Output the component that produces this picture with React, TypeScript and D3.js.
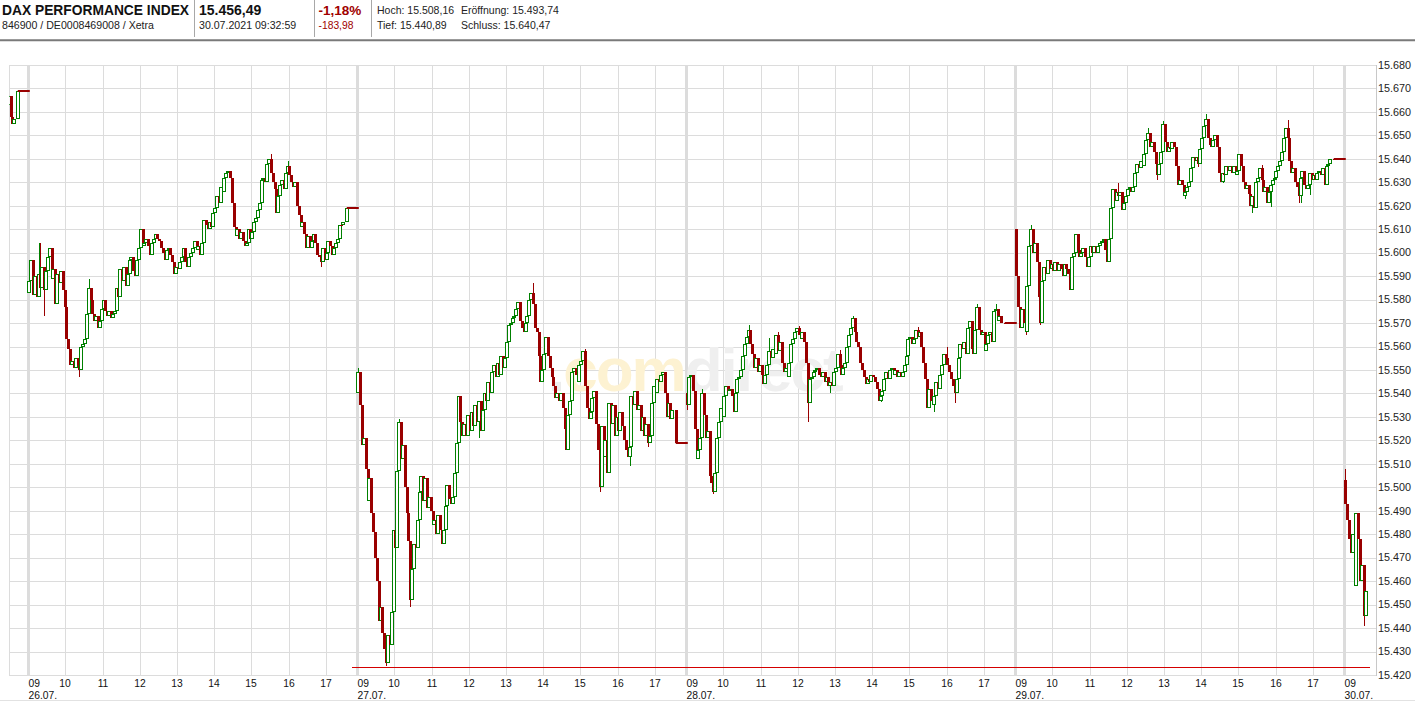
import React from 'react';
import * as d3 from 'd3';

// ---------- header texts ----------
const titleText = 'DAX PERFORMANCE INDEX';
const idText = '846900 / DE0008469008 / Xetra';
const lastPrice = '15.456,49';
const timeStamp = '30.07.2021 09:32:59';
const changePct = '-1,18%';
const changeAbs = '-183,98';
const statsLeft = ['Hoch: 15.508,16', 'Tief: 15.440,89'];
const statsRight = ['Eröffnung: 15.493,74', 'Schluss: 15.640,47'];

// ---------- axis labels ----------
const dayDates = ['26.07.', '27.07.', '28.07.', '29.07.', '30.07.'];
const firstHourLabel = '09';
const hourTicks = [10, 11, 12, 13, 14, 15, 16, 17];
const priceTicks = [15420, 15430, 15440, 15450, 15460, 15470, 15480, 15490, 15500, 15510, 15520, 15530, 15540,
  15550, 15560, 15570, 15580, 15590, 15600, 15610, 15620, 15630, 15640, 15650, 15660, 15670, 15680];
const supportLevel = 15423.3;

// ---------- 3-minute closes (09:00 ... 17:27), open of each candle = previous close ----------
const cl23 = [15667, 15658, 15655, 15657];
const cl26 = [
  15588, 15597, 15582, 15590, 15581, 15591, 15585, 15594, 15584, 15592, 15598, 15602, 15589, 15593, 15578, 15591, 15587, 15592, 15584, 15577,
  15563, 15559, 15552, 15554, 15551, 15555, 15552, 15550, 15560, 15561, 15563, 15574, 15585, 15580, 15574, 15571, 15573, 15568, 15571, 15576,
  15580, 15575, 15573, 15575, 15572, 15574, 15575, 15585, 15581, 15593, 15588, 15594, 15586, 15591, 15597, 15598, 15592, 15590, 15597, 15602,
  15610, 15603, 15604, 15606, 15603, 15599, 15604, 15606, 15608, 15606, 15605, 15602, 15600, 15597, 15601, 15602, 15599, 15596, 15591, 15594,
  15593, 15596, 15598, 15602, 15596, 15594, 15598, 15600, 15602, 15605, 15601, 15603, 15599, 15604, 15614, 15612, 15610, 15613, 15611, 15617,
  15619, 15624, 15621, 15628, 15626, 15632, 15634, 15635, 15632, 15621, 15611, 15607, 15610, 15606, 15609, 15605, 15603, 15604, 15610, 15606,
  15609, 15613, 15615, 15618, 15621, 15631, 15632, 15630, 15638, 15640, 15634, 15630, 15627, 15617, 15624, 15629, 15631, 15627, 15634, 15637,
  15633, 15630, 15628, 15630, 15620, 15616, 15611, 15613, 15608, 15602, 15607, 15602, 15605, 15608, 15604, 15599, 15598, 15596, 15602, 15597,
  15600, 15605, 15603, 15599, 15602, 15604, 15606, 15612, 15612, 15613,
];
const cl27 = [
  15549, 15535, 15518, 15521, 15508, 15494, 15504, 15489, 15481, 15470, 15460, 15443, 15449, 15438, 15431, 15425, 15437, 15433, 15447, 15482,
  15474, 15507, 15528, 15512, 15518, 15500, 15489, 15477, 15452, 15465, 15476, 15474, 15486, 15498, 15505, 15494, 15504, 15491, 15496, 15490,
  15484, 15486, 15480, 15488, 15482, 15476, 15482, 15492, 15501, 15495, 15493, 15496, 15506, 15519, 15539, 15528, 15522, 15527, 15522, 15531,
  15524, 15532, 15526, 15535, 15528, 15537, 15524, 15533, 15540, 15537, 15545, 15540, 15549, 15552, 15547, 15553, 15548, 15556, 15551, 15555,
  15562, 15569, 15570, 15572, 15573, 15576, 15579, 15571, 15568, 15566, 15570, 15573, 15580, 15583, 15578, 15568, 15566, 15556, 15545, 15550,
  15557, 15564, 15556, 15551, 15547, 15543, 15538, 15540, 15537, 15540, 15534, 15525, 15516, 15531, 15537, 15549, 15551, 15548, 15545, 15552,
  15554, 15558, 15543, 15534, 15529, 15532, 15538, 15541, 15527, 15516, 15500, 15526, 15513, 15520, 15506, 15536, 15527, 15535, 15522, 15530,
  15524, 15532, 15526, 15520, 15516, 15513, 15517, 15539, 15535, 15541, 15533, 15535, 15524, 15530, 15522, 15527, 15519, 15522, 15536, 15543,
  15540, 15546, 15545, 15548, 15549, 15540, 15530, 15536, 15529, 15533,
];
const cl28 = [
  15535, 15547, 15548, 15541, 15525, 15512, 15516, 15521, 15540, 15531, 15521, 15524, 15505, 15502, 15498, 15506, 15521, 15528, 15534, 15530,
  15539, 15543, 15541, 15542, 15539, 15532, 15540, 15546, 15547, 15550, 15556, 15561, 15564, 15567, 15561, 15557, 15551, 15555, 15549, 15552,
  15548, 15544, 15548, 15552, 15558, 15555, 15559, 15557, 15565, 15558, 15562, 15553, 15549, 15551, 15547, 15553, 15561, 15563, 15566, 15568,
  15565, 15563, 15566, 15562, 15553, 15536, 15546, 15547, 15549, 15550, 15551, 15548, 15547, 15549, 15545, 15547, 15543, 15545, 15543, 15549,
  15551, 15557, 15552, 15548, 15551, 15553, 15560, 15565, 15568, 15572, 15566, 15562, 15560, 15553, 15550, 15547, 15544, 15546, 15545, 15548,
  15547, 15545, 15542, 15537, 15539, 15541, 15546, 15549, 15546, 15550, 15551, 15548, 15550, 15547, 15549, 15547, 15549, 15552, 15556, 15563,
  15564, 15561, 15563, 15567, 15564, 15566, 15560, 15553, 15546, 15534, 15542, 15537, 15535, 15539, 15545, 15542, 15548, 15552, 15557, 15555,
  15552, 15549, 15546, 15543, 15540, 15546, 15555, 15561, 15559, 15562, 15557, 15568, 15571, 15559, 15557, 15567, 15577, 15567, 15565, 15566,
  15558, 15561, 15565, 15566, 15562, 15575, 15576, 15571, 15573, 15570,
];
const cl29 = [
  15590, 15577, 15568, 15576, 15570, 15566, 15586, 15603, 15610, 15600, 15604, 15596, 15581, 15570, 15588, 15594, 15591, 15597, 15593, 15595,
  15592, 15596, 15592, 15595, 15593, 15590, 15595, 15593, 15591, 15584, 15598, 15600, 15608, 15601, 15598, 15600, 15602, 15598, 15594, 15598,
  15603, 15600, 15603, 15600, 15603, 15604, 15605, 15606, 15601, 15596, 15606, 15619, 15627, 15622, 15626, 15624, 15626, 15618, 15621, 15624,
  15627, 15628, 15626, 15628, 15634, 15638, 15636, 15639, 15637, 15642, 15648, 15651, 15645, 15647, 15643, 15638, 15633, 15638, 15643, 15655,
  15647, 15643, 15645, 15644, 15647, 15645, 15637, 15629, 15631, 15629, 15624, 15626, 15628, 15630, 15636, 15641, 15639, 15641, 15638, 15644,
  15649, 15654, 15657, 15649, 15646, 15645, 15648, 15650, 15645, 15634, 15630, 15634, 15633, 15637, 15635, 15637, 15634, 15637, 15633, 15635,
  15642, 15637, 15630, 15627, 15629, 15625, 15620, 15624, 15619, 15630, 15632, 15636, 15631, 15626, 15628, 15621, 15626, 15629, 15631, 15632,
  15635, 15637, 15639, 15643, 15649, 15653, 15649, 15639, 15634, 15636, 15630, 15628, 15624, 15632, 15635, 15629, 15627, 15629, 15634, 15631,
  15633, 15631, 15634, 15635, 15633, 15636, 15629, 15637, 15638, 15640,
];
const cl30 = [15493, 15486, 15478, 15472, 15480, 15458, 15489, 15478, 15460, 15467, 15445, 15456];

// notable wick extremes: [candle index, high, low] (0 = none)
const wk26 = [[5, 15604, 0], [6, 15604, 0], [8, 0, 15573], [27, 0, 15547], [32, 15589, 0], [130, 15642, 0], [139, 15639, 0], [157, 0, 15594]];
const wk27 = [[0, 15551, 0], [15, 0, 15424], [22, 15529, 0], [28, 0, 15449], [65, 0, 15521], [94, 15587, 0], [122, 15559, 0],
  [130, 0, 15498], [146, 0, 15509], [156, 0, 15517]];
const wk28 = [[0, 15542, 15533], [8, 15542, 0], [14, 0, 15497], [33, 15569, 0], [44, 15563.5, 0], [49, 15566, 0], [60, 15568.6, 0],
  [65, 0, 15528], [77, 0, 15540], [82, 15558.5, 0], [89, 15573, 0], [104, 0, 15536.5], [124, 15568.5, 0], [133, 0, 15532],
  [140, 15560, 0], [144, 0, 15536], [156, 15578, 0], [166, 15578, 0]];
const wk29 = [[5, 0, 15565], [8, 15612, 0], [13, 0, 15569], [55, 15629.5, 0], [71, 15653, 0], [76, 0, 15631], [79, 15656, 0],
  [87, 0, 15629.5], [91, 0, 15623], [98, 0, 15636.6], [102, 15659, 0], [111, 0, 15629.5], [127, 0, 15617], [132, 15637.3, 0],
  [137, 0, 15619.6], [146, 15656.5, 0], [152, 0, 15621], [153, 0, 15621], [158, 0, 15624.5]];
const wk30 = [[0, 15508, 0], [10, 0, 15441]];

const sessions = [
  { day: -1, first: 166, open: 15663, closes: cl23, auction: 15669, wicks: [] as number[][] },
  { day: 0, first: 0, open: 15583, closes: cl26, auction: 15619, wicks: wk26 },
  { day: 1, first: 0, open: 15540, closes: cl27, auction: 15519, wicks: wk27 },
  { day: 2, first: 0, open: 15540, closes: cl28, auction: 15570, wicks: wk28 },
  { day: 3, first: 0, open: 15610, closes: cl29, auction: 15640, wicks: wk29 },
  { day: 4, first: 0, open: 15503, closes: cl30, auction: null as number | null, wicks: wk30 },
];

// ---------- layout ----------
const W = 1415, H = 702;
const PL = 9.3, PR = 1376, PT = 65, PB = 675;
const DAY = 8.85;           // session span in hours on the axis
const STEP = 0.05;          // 3 minutes
const AUCTION_T = 8.567;
const T_LEFT = -0.511, T_RIGHT = 36.253;
const GREEN = '#008000';
const RED = '#990000';
const FONT = '"Liberation Sans", Arial, Helvetica, sans-serif';

type Candle = { t: number; o: number; c: number; hi: number; lo: number };

export default function App() {
  const x = d3.scaleLinear().domain([T_LEFT, T_RIGHT]).range([PL, PR]);
  const y = d3.scaleLinear().domain([15420, 15680]).range([PB, PT]);
  const fmt = d3.formatLocale({ decimal: ',', thousands: '.', grouping: [3], currency: ['', ''] }).format(',');

  const candles: Candle[] = [];
  const flats: { t0: number; t1: number; v: number }[] = [];
  sessions.forEach((s) => {
    let prev = s.open;
    const wm = new Map(s.wicks.map((w) => [w[0], w]));
    s.closes.forEach((c, k) => {
      const i = s.first + k;
      const w = wm.get(i);
      const o = prev;
      const hi = Math.max(o, c, w && w[1] ? w[1] : -Infinity);
      const lo = Math.min(o, c, w && w[2] ? w[2] : Infinity);
      candles.push({ t: s.day * DAY + i * STEP + STEP / 2, o, c, hi, lo });
      prev = c;
    });
    if (s.auction != null) {
      const ta = s.day * DAY + AUCTION_T;
      candles.push({ t: ta, o: prev, c: s.auction, hi: Math.max(prev, s.auction), lo: Math.min(prev, s.auction) });
      flats.push({ t0: ta, t1: (s.day + 1) * DAY + 0.04, v: s.auction });
    }
  });

  const hourLines: { t: number; label: string }[] = [];
  for (let d = 0; d < 5; d++) {
    hourTicks.forEach((h) => {
      const t = d * DAY + (h - 9);
      if (t < T_RIGHT) hourLines.push({ t, label: String(h) });
    });
  }
  const seps = d3.range(0, 5).map((d) => d * DAY);

  return (
    <svg width={W} height={H} style={{ position: 'absolute', left: 0, top: 0, background: '#fff' }} fontFamily={FONT}>
      <rect x={0} y={0} width={W} height={H} fill="#fff" />
      {/* header */}
      <text x={2} y={14.5} fontSize={13.8} fontWeight="bold" fill="#111">{titleText}</text>
      <text x={2} y={29} fontSize={10.6} fill="#222">{idText}</text>
      <line x1={194.5} x2={194.5} y1={0} y2={37} stroke="#a8a8a8" />
      <text x={199} y={14.5} fontSize={14} fontWeight="bold" fill="#111">{lastPrice}</text>
      <text x={199} y={29} fontSize={10.6} fill="#222">{timeStamp}</text>
      <line x1={314.5} x2={314.5} y1={0} y2={37} stroke="#a8a8a8" />
      <text x={318.5} y={14.5} fontSize={13.5} fontWeight="bold" fill="#a00000">{changePct}</text>
      <text x={318.5} y={29} fontSize={10.3} fill="#a00000">{changeAbs}</text>
      <line x1={371.5} x2={371.5} y1={0} y2={37} stroke="#a8a8a8" />
      {statsLeft.map((s, i) => (
        <text key={s} x={377} y={14 + i * 15} fontSize={10.5} fill="#222">{s}</text>
      ))}
      {statsRight.map((s, i) => (
        <text key={s} x={461} y={14 + i * 15} fontSize={10.5} fill="#222">{s}</text>
      ))}
      <line x1={0} x2={W} y1={40.3} y2={40.3} stroke="#7a7a7a" strokeWidth={2} />
      <line x1={0} x2={W} y1={700.5} y2={700.5} stroke="#e2e2e2" />

      {/* grid */}
      {priceTicks.map((v) => (
        <line key={v} x1={PL} x2={PR} y1={Math.round(y(v)) + 0.5} y2={Math.round(y(v)) + 0.5} stroke="#dcdcdc" />
      ))}
      {hourLines.map((h, i) => (
        <line key={i} x1={Math.round(x(h.t)) + 0.5} x2={Math.round(x(h.t)) + 0.5} y1={PT} y2={PB + 1} stroke="#dcdcdc" />
      ))}
      <line x1={9.5} x2={9.5} y1={PT} y2={PB + 1} stroke="#dcdcdc" />
      {seps.map((t) => (
        <rect key={t} x={Math.round(x(t)) - 1} y={PT} width={3} height={PB - PT + 1} fill="#dcdcdc" />
      ))}
      <line x1={PR + 0.5} x2={PR + 0.5} y1={PT} y2={PB + 1} stroke="#c8c8c8" />

      {/* watermark */}
      <text x={548} y={391} fontSize={62} fontWeight="bold" letterSpacing={-2}>
        <tspan fill="#ececec">.</tspan>
        <tspan fill="#fdf2d2">com</tspan>
        <tspan fill="#efefef">direct</tspan>
      </text>

      {/* candles */}
      <defs>
        <clipPath id="plotClip">
          <rect x={PL} y={PT} width={PR - PL} height={PB - PT + 1} />
        </clipPath>
      </defs>
      <g clipPath="url(#plotClip)">
        {candles.map((d, i) => {
          const cx = Math.round(x(d.t));
          const yTop = Math.round(y(Math.max(d.o, d.c)));
          const yBot = Math.round(y(Math.min(d.o, d.c)));
          const up = d.c > d.o;
          const col = up ? GREEN : RED;
          const yh = Math.round(y(d.hi));
          const yl = Math.round(y(d.lo));
          const hgt = yBot - yTop;
          return (
            <g key={i}>
              {(yh < yTop || yl > yBot) && (
                <line x1={cx + 0.5} x2={cx + 0.5} y1={yh} y2={yl} stroke={col} />
              )}
              {up ? (
                hgt > 1 ? (
                  <rect x={cx - 1.5} y={yTop + 0.5} width={3} height={hgt - 1} fill="#fff" stroke={col} />
                ) : (
                  <line x1={cx - 2} x2={cx + 2} y1={yTop + 0.5} y2={yTop + 0.5} stroke={col} />
                )
              ) : (
                <rect x={cx - 1} y={yTop} width={3} height={Math.max(1, hgt)} fill={col} />
              )}
            </g>
          );
        })}
        {flats.map((f, i) => (
          <line key={i} x1={x(f.t0)} x2={x(f.t1)} y1={Math.round(y(f.v))} y2={Math.round(y(f.v))} stroke={RED} strokeWidth={2} />
        ))}
      </g>
      <line x1={352} x2={1370} y1={Math.round(y(supportLevel)) + 0.5} y2={Math.round(y(supportLevel)) + 0.5} stroke="#d40000" />

      {/* y labels */}
      {priceTicks.map((v) => (
        <text key={v} x={PR + 2} y={y(v) + 3.8} fontSize={10.8} fill="#222">{fmt(v)}</text>
      ))}
      {/* x labels */}
      {hourLines.map((h, i) => (
        <text key={i} x={Math.round(x(h.t))} y={687} fontSize={10.3} textAnchor="middle" fill="#111">{h.label}</text>
      ))}
      {seps.map((t, d) => (
        <g key={d}>
          <text x={Math.round(x(t)) + 0.5} y={687} fontSize={10.3} fill="#111">{firstHourLabel}</text>
          <text x={Math.round(x(t)) + 0.5} y={699} fontSize={10.3} fill="#111">{dayDates[d]}</text>
        </g>
      ))}
    </svg>
  );
}
